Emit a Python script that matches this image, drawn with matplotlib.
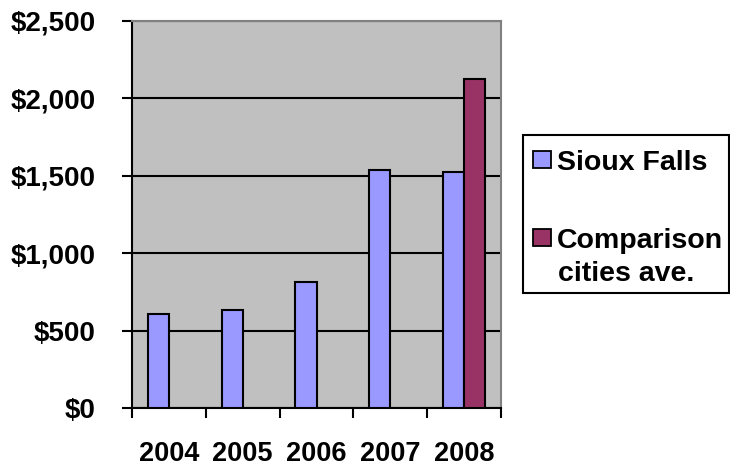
import matplotlib
matplotlib.use("Agg")
import matplotlib.pyplot as plt
import numpy as np
from matplotlib.patches import Rectangle
from matplotlib.ticker import FuncFormatter

years = ["2004", "2005", "2006", "2007", "2008"]
sioux_falls = [608, 630, 817, 1537, 1527]
comparison = [np.nan, np.nan, np.nan, np.nan, 2125]
series_names = ["Sioux Falls", "Comparison\ncities ave."]
yticks = [0, 500, 1000, 1500, 2000, 2500]

plt.rcParams['font.family'] = ['Liberation Sans', 'DejaVu Sans']
plt.rcParams['font.weight'] = 'bold'

W, H = 730, 466
fig = plt.figure(figsize=(W / 100, H / 100), dpi=100)
fig.patch.set_facecolor('white')
ax = fig.add_axes([132 / W, (H - 408) / H, (501 - 132) / W, (408 - 21) / H])
ax.set_facecolor('#C0C0C0')

x = np.arange(len(years))
bw = 1 / 3.5
c1, c2 = '#9999FF', '#993366'
ax.bar(x - bw / 2, sioux_falls, bw, color=c1, edgecolor='black', linewidth=1.5, zorder=3)
ax.bar(x + bw / 2, comparison, bw, color=c2, edgecolor='black', linewidth=1.5, zorder=3)

ax.set_xlim(-0.5, len(years) - 0.5)
ax.set_ylim(0, 2500)
ax.set_yticks(yticks)
ax.yaxis.set_major_formatter(FuncFormatter(lambda v, p: f"${v:,.0f}"))
ax.grid(axis='y', color='black', linewidth=1.5, zorder=1)
ax.set_axisbelow(True)

ax.set_xticks(x)
ax.set_xticklabels(years)
ax.set_xticks(np.arange(-0.5, len(years), 1), minor=True)
ax.tick_params(axis='x', which='major', length=0, pad=24, labelsize=19.5)
ax.tick_params(axis='x', which='minor', length=7, width=1.5, direction='out', color='black')
ax.tick_params(axis='y', length=7, width=1.5, direction='out', pad=19, labelsize=20)
for lab in ax.get_xticklabels() + ax.get_yticklabels():
    lab.set_fontweight('bold')

for s in ['left', 'bottom']:
    ax.spines[s].set_color('black')
    ax.spines[s].set_linewidth(1.5)
for s in ['top', 'right']:
    ax.spines[s].set_color('#808080')
    ax.spines[s].set_linewidth(1.5)

# Legend (manual, to match layout)
def fx(px):
    return px / W
def fy(py):
    return 1 - py / H

fig.patches.append(Rectangle((fx(523), fy(293)), fx(728.5) - fx(523), fy(135) - fy(293),
                             transform=fig.transFigure, facecolor='white', edgecolor='black',
                             linewidth=1.5))
for (ytop, col) in [(151, c1), (229, c2)]:
    fig.patches.append(Rectangle((fx(533), fy(ytop + 17)), fx(551) - fx(533), fy(ytop) - fy(ytop + 17),
                                 transform=fig.transFigure, facecolor=col, edgecolor='black',
                                 linewidth=1.3))
lfs = 20.5
fig.text(fx(557), fy(170), series_names[0], fontsize=lfs, fontweight='bold', va='baseline', ha='left')
fig.text(fx(557), fy(248), series_names[1].split('\n')[0], fontsize=lfs, fontweight='bold', va='baseline', ha='left')
fig.text(fx(558), fy(281), series_names[1].split('\n')[1], fontsize=lfs, fontweight='bold', va='baseline', ha='left')

fig.savefig('out.png', dpi=100)
